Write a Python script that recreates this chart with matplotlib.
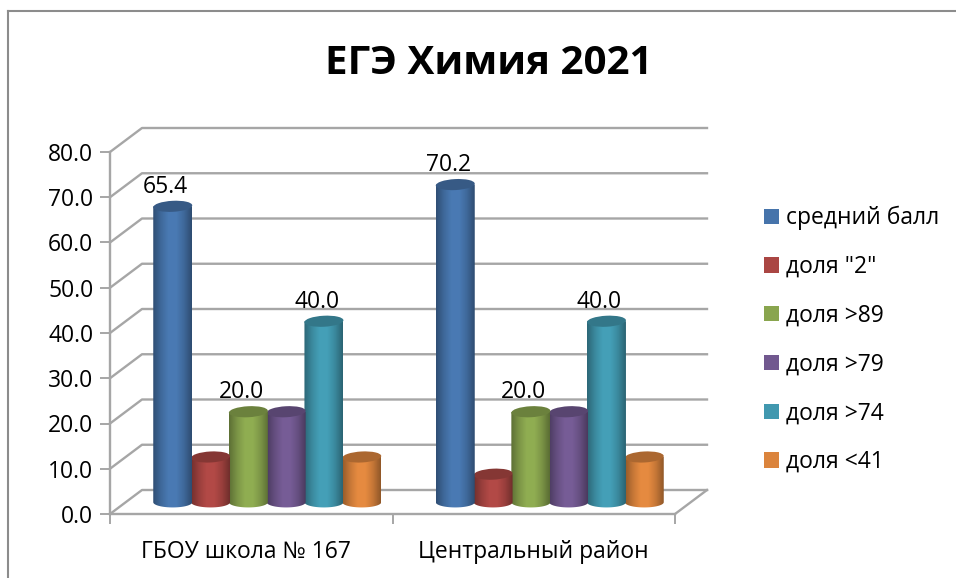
import numpy as np
import matplotlib
matplotlib.use("Agg")
import matplotlib.pyplot as plt
from matplotlib.colors import LinearSegmentedColormap, to_rgb
from matplotlib.lines import Line2D
from matplotlib.patches import Ellipse, Patch, PathPatch
from matplotlib.path import Path
from matplotlib.transforms import Affine2D

plt.rcParams["font.family"] = ["Open Sans", "DejaVu Sans"]

title = "ЕГЭ Химия 2021"
categories = ["ГБОУ школа № 167", "Центральный район"]
series_names = ["средний балл", 'доля "2"', "доля >89", "доля >79", "доля >74", "доля <41"]
srednii = [65.4, 70.2]
dolya_2 = [10.0, 6.2]
dolya_89 = [20.0, 20.0]
dolya_79 = [20.0, 20.0]
dolya_74 = [40.0, 40.0]
dolya_41 = [10.0, 10.0]
all_series = [srednii, dolya_2, dolya_89, dolya_79, dolya_74, dolya_41]
colors = ["#4674AB", "#AA4643", "#89A54E", "#71588F", "#4198AF", "#DB843D"]
labelled = [True, False, True, False, True, False]
y_ticks = [0, 10, 20, 30, 40, 50, 60, 70, 80]

W, H = 956, 578
grid_color = "#a6a6a6"
fs = 16.5
fig = plt.figure(figsize=(W / 100, H / 100), dpi=100)

# plot area in pixels, the walls are drawn behind it with an offset
left, right, top, bottom = 110, 675, 152, 514
ax = fig.add_axes([left / W, 1 - bottom / H, (right - left) / W, (bottom - top) / H])
ax.set_xlim(0, 2)
ax.set_ylim(0, 80)
ax.patch.set_visible(False)

depth_x = 32 / (right - left) * 2
depth_y = 24 / (bottom - top) * 80

# back wall and side wall
for v in y_ticks:
    ax.plot([0, depth_x, 2 + depth_x], [v, v + depth_y, v + depth_y],
            color=grid_color, lw=1.7, clip_on=False, zorder=1)
ax.plot([2, 2 + depth_x], [0, depth_y], color=grid_color, lw=1.7, clip_on=False, zorder=1)

# cylinders
bar_w = 39 / (right - left) * 2
step = 37.8 / (right - left) * 2
base = 2.6
ry = 2.3


def shade(hex_color):
    c = np.array(to_rgb(hex_color))
    return LinearSegmentedColormap.from_list(
        "c", [c * 0.68, c * 0.9, c * 1.05, c * 1.05, c * 0.9, c * 0.66])


for s, values in enumerate(all_series):
    for i, v in enumerate(values):
        cx = i + 0.5 + depth_x / 2 + (s - 2.5) * step
        x0, x1 = cx - bar_w / 2, cx + bar_w / 2
        z = 20 - s
        t = np.linspace(np.pi, 2 * np.pi, 30)
        xs = cx + bar_w / 2 * np.cos(t)
        ys = base + ry / 2 * np.sin(t)
        verts = list(zip(xs, ys)) + [(x1, base + v), (x0, base + v), (x0, base)]
        clip = PathPatch(Path(verts), transform=ax.transData, fc="none", ec="none")
        ax.add_patch(clip)
        im = ax.imshow(np.linspace(0, 1, 64).reshape(1, -1), cmap=shade(colors[s]),
                       extent=[x0, x1, base - ry, base + v], aspect="auto",
                       zorder=z, interpolation="bilinear")
        im.set_clip_path(clip)
        cap = np.array(to_rgb(colors[s])) * 0.78
        # cap is tilted a little, so it is placed in pixels around the bar top
        px = ax.transData.transform((cx, base + v))
        ax.add_patch(Ellipse((0, 0), 39, 11, angle=3, fc=cap, ec="none", zorder=z + 0.5,
                             transform=Affine2D().translate(px[0], px[1])))
        if labelled[s]:
            ax.annotate(f"{v:.1f}", (cx, base + v), xytext=(-5, 14), textcoords="offset points",
                        ha="center", va="center", fontsize=fs, color="black", zorder=40,
                        annotation_clip=False)

ax.set_xlim(0, 2)
ax.set_ylim(0, 80)

for name in ["top", "right"]:
    ax.spines[name].set_visible(False)
for name in ["left", "bottom"]:
    ax.spines[name].set_color(grid_color)
    ax.spines[name].set_linewidth(1.7)

ax.set_yticks(y_ticks)
ax.set_yticklabels([f"{v:.1f}" for v in y_ticks], fontsize=fs)
ax.tick_params(axis="y", length=7, width=1.4, color=grid_color, pad=5)
ax.set_xticks([0, 1, 2])
ax.set_xticklabels([])
ax.tick_params(axis="x", which="major", length=7, width=1.4, color=grid_color)
ax.set_xticks([0.48, 1.5], minor=True)
ax.set_xticklabels(categories, minor=True, fontsize=fs)
ax.tick_params(axis="x", which="minor", length=0, pad=19)

handles = [Patch(fc=c, ec="none") for c in colors]
fig.legend(handles, series_names, loc="center left", bbox_to_anchor=(764 / W, 1 - 340 / H),
           frameon=False, fontsize=fs, handlelength=0.66, handleheight=0.66,
           handletextpad=0.28, labelspacing=1.08, borderpad=0, borderaxespad=0)

fig.text(489 / W, 1 - 63 / H, title, ha="center", va="center", fontsize=29, fontweight="bold")

# frame of the chart object, only the top and left edges are in the picture
fig.add_artist(Line2D([8 / W, 8 / W], [0, 1 - 11 / H], color="#8c8c8c", lw=1.5))
fig.add_artist(Line2D([8 / W, 1], [1 - 11 / H, 1 - 11 / H], color="#8c8c8c", lw=1.5))

fig.savefig("out.png", dpi=100)
